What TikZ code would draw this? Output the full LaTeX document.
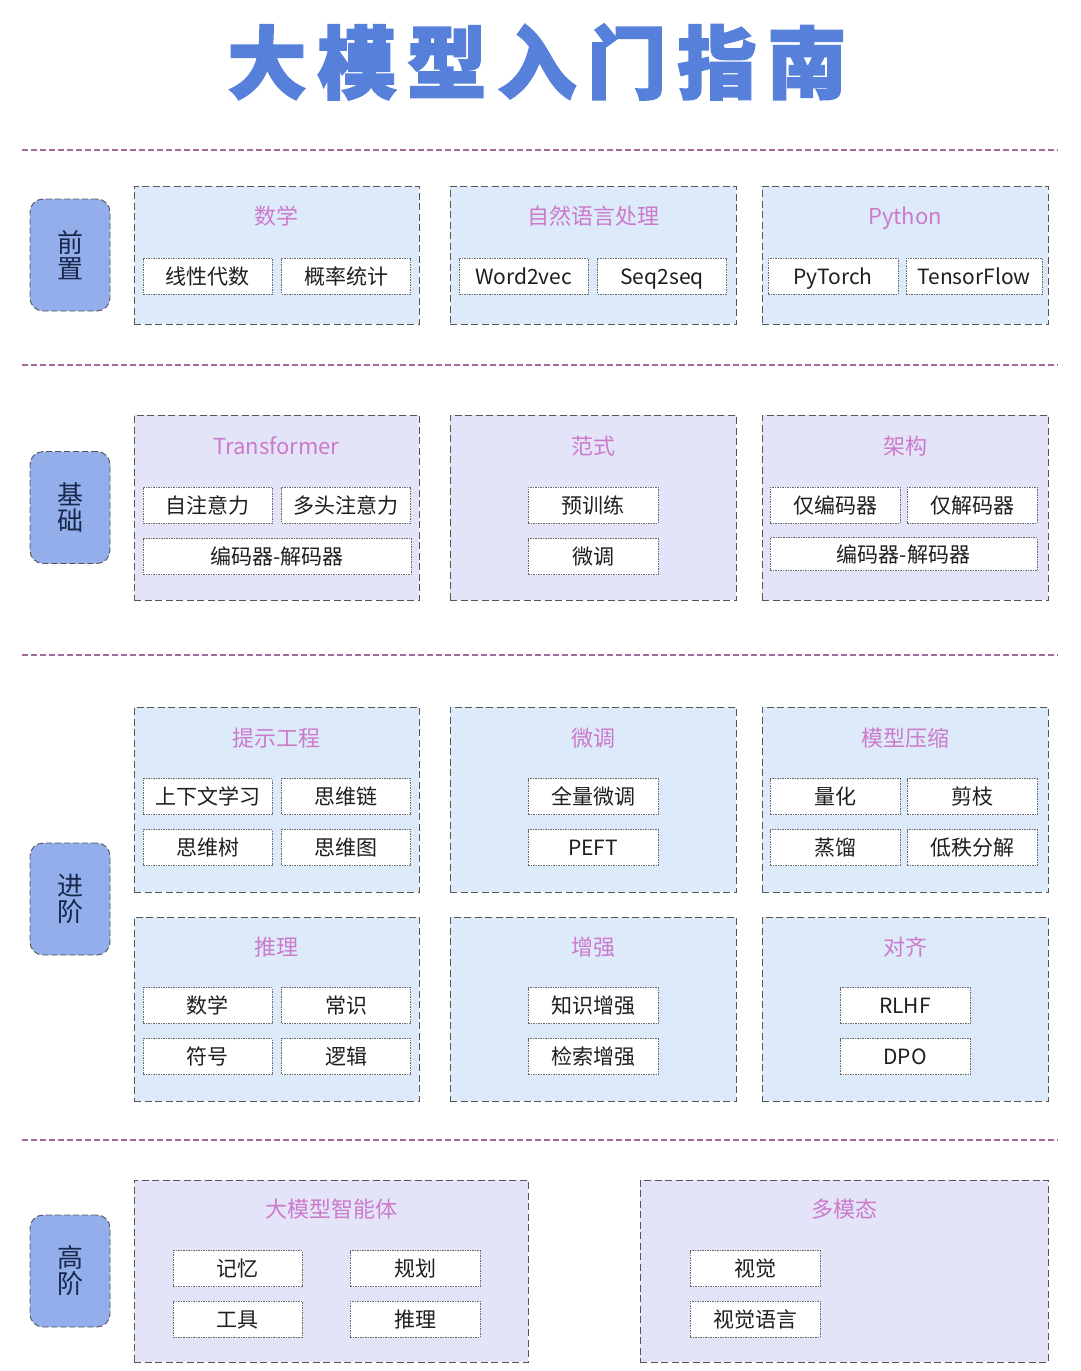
\documentclass[tikz,border=0pt]{standalone}
\usepackage{fontspec}
\setmainfont{Noto Sans CJK SC}
\newfontfamily\titlefont[FakeBold=2.5]{Noto Sans CJK SC}
\definecolor{titleblue}{HTML}{5680DA}
\definecolor{sepcol}{HTML}{A06A9C}
\definecolor{gblue}{HTML}{DCEAF9}
\definecolor{glav}{HTML}{E3E4F8}
\definecolor{labfill}{HTML}{93AEEA}
\definecolor{labtext}{HTML}{17284A}
\definecolor{gtitle}{HTML}{CC7ACC}
\definecolor{bordergray}{HTML}{555555}
\definecolor{itemgray}{HTML}{6A6A6A}
\definecolor{itemtext}{HTML}{1E1E1E}
\tikzset{
  sepline/.style={draw=sepcol, line width=1.3pt, dash pattern=on 6pt off 3pt},
  groupbox/.style={draw=bordergray, line width=0.9pt, dash pattern=on 7pt off 3.5pt, inner sep=0pt},
  labelbox/.style={draw=bordergray, line width=0.9pt, dash pattern=on 6pt off 3pt, fill=labfill,
    rounded corners=13pt, minimum width=80pt, minimum height=112pt, inner sep=0pt,
    text=labtext, font=\fontsize{26}{30}\selectfont, align=center},
  gtitlenode/.style={text=gtitle, font=\fontsize{22}{26}\selectfont, inner sep=0pt,
    text height=19.5pt, text depth=2.5pt},
  itembox/.style={draw=itemgray, line width=0.6pt, dash pattern=on 1.5pt off 1pt, fill=white,
    minimum width=129pt, minimum height=36pt, inner sep=0pt, text=itemtext,
    font=\fontsize{21}{25}\selectfont, text height=18.5pt, text depth=2.5pt},
}
\begin{document}
\begin{tikzpicture}[x=1pt,y=-1pt]
\useasboundingbox (0,0) rectangle (1080,1371);
\fill[white] (0,0) rectangle (1080,1371);

% title
\node[text=titleblue, inner sep=0pt] (title) at (537,62)
  {\titlefont\bfseries\fontsize{79}{90}\selectfont 大\kern11pt 模\kern11pt 型\kern11pt 入\kern11pt 门\kern11pt 指\kern11pt 南};

% separators
\coordinate (s1a) at (22,150); \coordinate (s1b) at (1058,150);
\coordinate (s2a) at (22,365); \coordinate (s2b) at (1058,365);
\coordinate (s3a) at (22,655); \coordinate (s3b) at (1058,655);
\coordinate (s4a) at (22,1140); \coordinate (s4b) at (1058,1140);
\draw[sepline] (s1a) -- (s1b);
\draw[sepline] (s2a) -- (s2b);
\draw[sepline] (s3a) -- (s3b);
\draw[sepline] (s4a) -- (s4b);

% ===== Row 1: 前置 =====
\node[labelbox] (L1) at (70,255) {前\\[-4pt]置};
\node[groupbox, fill=gblue, minimum width=285pt, minimum height=138pt] (g11) at (276.5,255) {};
\node[groupbox, fill=gblue, minimum width=286pt, minimum height=138pt] (g12) at (593,255) {};
\node[groupbox, fill=gblue, minimum width=286pt, minimum height=138pt] (g13) at (905,255) {};
\node[gtitlenode] (t11) at (276.5,216) {数学};
\node[gtitlenode] (t12) at (593,216) {自然语言处理};
\node[gtitlenode] (t13) at (905,216) {Python};
\node[itembox] (i111) at (207.5,276) {线性代数};
\node[itembox] (i112) at (346,276) {概率统计};
\node[itembox] (i121) at (523.5,276) {Word2vec};
\node[itembox] (i122) at (662,276) {Seq2seq};
\node[itembox, minimum width=130pt] (i131) at (833,276) {PyTorch};
\node[itembox, minimum width=136pt] (i132) at (974,276) {TensorFlow};

% ===== Row 2: 基础 =====
\node[labelbox] (L2) at (70,507.5) {基\\[-4pt]础};
\node[groupbox, fill=glav, minimum width=285pt, minimum height=185pt] (g21) at (276.5,507.5) {};
\node[groupbox, fill=glav, minimum width=286pt, minimum height=185pt] (g22) at (593,507.5) {};
\node[groupbox, fill=glav, minimum width=286pt, minimum height=185pt] (g23) at (905,507.5) {};
\node[gtitlenode] (t21) at (276.5,446) {Transformer};
\node[gtitlenode] (t22) at (593,446) {范式};
\node[gtitlenode] (t23) at (905,446) {架构};
\node[itembox] (i211) at (207.5,505) {自注意力};
\node[itembox] (i212) at (346,505) {多头注意力};
\node[itembox, minimum width=268pt] (i213) at (277,556.5) {编码器-解码器};
\node[itembox, minimum width=130pt] (i221) at (593,505) {预训练};
\node[itembox, minimum width=130pt] (i222) at (593,556.5) {微调};
\node[itembox, minimum width=130pt] (i231) at (835,505) {仅编码器};
\node[itembox, minimum width=130pt] (i232) at (972,505) {仅解码器};
\node[itembox, minimum width=267pt, minimum height=33pt] (i233) at (903.5,554) {编码器-解码器};

% ===== Row 3: 进阶 =====
\node[labelbox] (L3) at (70,899) {进\\[-4pt]阶};
\node[groupbox, fill=gblue, minimum width=285pt, minimum height=185pt] (g31) at (276.5,799.5) {};
\node[groupbox, fill=gblue, minimum width=286pt, minimum height=185pt] (g32) at (593,799.5) {};
\node[groupbox, fill=gblue, minimum width=286pt, minimum height=185pt] (g33) at (905,799.5) {};
\node[gtitlenode] (t31) at (276.5,738) {提示工程};
\node[gtitlenode] (t32) at (593,738) {微调};
\node[gtitlenode] (t33) at (905,738) {模型压缩};
\node[itembox] (i311) at (207.5,796.5) {上下文学习};
\node[itembox] (i312) at (346,796.5) {思维链};
\node[itembox] (i313) at (207.5,847.5) {思维树};
\node[itembox] (i314) at (346,847.5) {思维图};
\node[itembox, minimum width=130pt] (i321) at (593,796.5) {全量微调};
\node[itembox, minimum width=130pt] (i322) at (593,847.5) {PEFT};
\node[itembox, minimum width=130pt] (i331) at (835,796.5) {量化};
\node[itembox, minimum width=130pt] (i332) at (972,796.5) {剪枝};
\node[itembox, minimum width=130pt] (i333) at (835,847.5) {蒸馏};
\node[itembox, minimum width=130pt] (i334) at (972,847.5) {低秩分解};

\node[groupbox, fill=gblue, minimum width=285pt, minimum height=184pt] (g34) at (276.5,1009) {};
\node[groupbox, fill=gblue, minimum width=286pt, minimum height=184pt] (g35) at (593,1009) {};
\node[groupbox, fill=gblue, minimum width=286pt, minimum height=184pt] (g36) at (905,1009) {};
\node[gtitlenode] (t34) at (276.5,947) {推理};
\node[gtitlenode] (t35) at (593,947) {增强};
\node[gtitlenode] (t36) at (905,947) {对齐};
\node[itembox] (i341) at (207.5,1005.5) {数学};
\node[itembox] (i342) at (346,1005.5) {常识};
\node[itembox] (i343) at (207.5,1056.5) {符号};
\node[itembox] (i344) at (346,1056.5) {逻辑};
\node[itembox, minimum width=130pt] (i351) at (593,1005.5) {知识增强};
\node[itembox, minimum width=130pt] (i352) at (593,1056.5) {检索增强};
\node[itembox, minimum width=130pt] (i361) at (905,1005.5) {RLHF};
\node[itembox, minimum width=130pt] (i362) at (905,1056.5) {DPO};

% ===== Row 4: 高阶 =====
\node[labelbox] (L4) at (70,1271) {高\\[-4pt]阶};
\node[groupbox, fill=glav, minimum width=394pt, minimum height=182pt] (g41) at (331,1271) {};
\node[groupbox, fill=glav, minimum width=408pt, minimum height=182pt] (g42) at (844,1271) {};
\node[gtitlenode] (t41) at (331,1209) {大模型智能体};
\node[gtitlenode] (t42) at (844,1209) {多模态};
\node[itembox] (i411) at (237.5,1268.5) {记忆};
\node[itembox, minimum width=130pt] (i412) at (415,1268.5) {规划};
\node[itembox] (i413) at (237.5,1319) {工具};
\node[itembox, minimum width=130pt] (i414) at (415,1319) {推理};
\node[itembox, minimum width=130pt] (i421) at (755,1268.5) {视觉};
\node[itembox, minimum width=130pt] (i422) at (755,1319) {视觉语言};
\end{tikzpicture}
\end{document}
